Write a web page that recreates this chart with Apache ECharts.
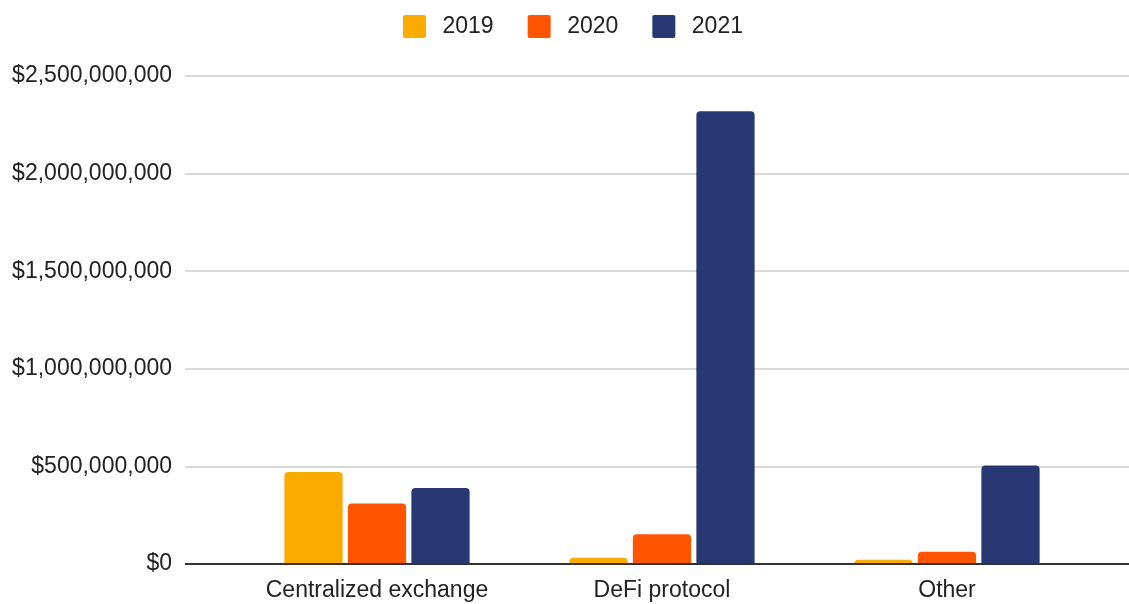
<!DOCTYPE html>
<html><head><meta charset="utf-8">
<script src="https://cdn.jsdelivr.net/npm/echarts@6/dist/echarts.min.js"></script>
<style>html,body{margin:0;padding:0;background:#fff}#c{width:1129px;height:604px}</style>
</head><body><div id="c"></div>
<script>
const categories = ['Centralized exchange', 'DeFi protocol', 'Other'];
const years = ['2019', '2020', '2021'];
const v2019 = [471000000, 32000000, 22000000];
const v2020 = [310000000, 153000000, 63000000];
const v2021 = [389000000, 2320000000, 505000000];
const colors = ['#FBAA00', '#FF5400', '#283873'];

const chart = echarts.init(document.getElementById('c'));
const fmt = v => '$' + Number(v).toLocaleString('en-US');
const font = "'Liberation Sans', Arial, sans-serif";
const seriesVals = [v2019, v2020, v2021];
chart.setOption({
  animation: false,
  textStyle: {fontFamily: font},
  legend: {
    top: 10, left: 398, itemWidth: 24, itemHeight: 23, itemGap: 34,
    data: years,
    textStyle: {fontSize: 23, color: '#222', fontFamily: font, padding: [0,0,0,11]},
    icon: 'path://M2,0 H22 A2,2 0 0 1 24,2 V22 A2,2 0 0 1 22,24 H2 A2,2 0 0 1 0,22 V2 A2,2 0 0 1 2,0 Z'
  },
  grid: [
    {left: 185, right: 0, top: 76, bottom: 40},
    {left: 234.5, right: 39.5, top: 76, bottom: 40}
  ],
  xAxis: [
    {gridIndex: 0, type: 'value', show: false},
    {gridIndex: 1, type: 'category', data: categories,
     axisLine: {show: false}, axisTick: {show: false},
     axisLabel: {interval: 0, fontSize: 23, color: '#222', margin: 15, fontFamily: font}}
  ],
  yAxis: [
    {gridIndex: 0, type: 'value', min: 0, max: 2500000000, interval: 500000000,
     axisLine: {show: false}, axisTick: {show: false},
     splitLine: {lineStyle: {color: '#cccccc', width: 1.5}},
     axisLabel: {formatter: fmt, fontSize: 23, color: '#222', margin: 13, fontFamily: font}},
    {gridIndex: 1, type: 'value', min: 0, max: 2500000000, show: false, splitLine: {show: false}}
  ],
  series: years.map((y, i) => ({
    name: y, type: 'bar', xAxisIndex: 1, yAxisIndex: 1,
    data: seriesVals[i],
    itemStyle: {color: colors[i], borderRadius: [4,4,0,0]},
    barGap: '9%', barCategoryGap: '35%'
  })).concat([{
    type: 'line', xAxisIndex: 0, yAxisIndex: 0, data: [], silent: true,
    markLine: {symbol: 'none', silent: true, label: {show: false},
      lineStyle: {color: '#333', width: 2, type: 'solid'},
      data: [{yAxis: 0}]}
  }])
});
</script></body></html>
